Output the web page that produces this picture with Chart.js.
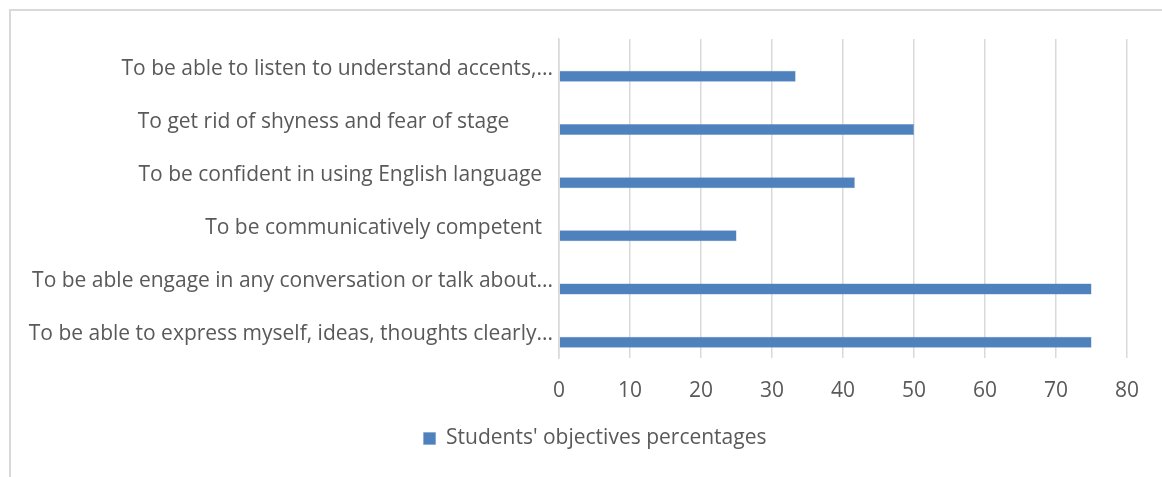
<!DOCTYPE html>
<html lang="en">
<head>
  <meta charset="UTF-8" />
  <title>Students' objectives</title>
  <script src="https://cdn.jsdelivr.net/npm/chart.js"></script>
  <style>
    html, body { margin: 0; padding: 0; background: #fff; overflow: hidden; }
    #frame {
      position: absolute; left: 9px; top: 9px; width: 1300px; height: 600px;
      border-top: 2px solid #d9d9d9; border-left: 2px solid #d9d9d9;
    }
    #wrap { position: absolute; left: 11px; top: 0; width: 1172px; height: 477px; }
  </style>
</head>
<body>
  <div id="frame"></div>
  <div id="wrap"><canvas id="graphique"></canvas></div>

  <script>
    const categories = [
      "To be able to listen to understand accents,...",
      "To get rid of shyness and fear of stage        ",
      "To be confident in using English language  ",
      "To be communicatively competent  ",
      "To be able engage in any conversation or talk about...",
      "To be able to express myself, ideas, thoughts clearly..."
    ];
    const percentages = [33.33, 50, 41.67, 25, 75, 75];
    const seriesName = "Students' objectives percentages";
    const xTicks = [0, 10, 20, 30, 40, 50, 60, 70, 80];

    const grey = '#595959';
    const font = { family: '"Open Sans", Lato, sans-serif', size: 21 };

    // legend sits a bit right of the plot centre in the original
    const shiftLegend = {
      id: 'shiftLegend',
      afterLayout(chart) {
        if (!chart.legend) return;
        chart.legend.left += 26;
        chart.legend.right += 26;
      }
    };

    new Chart(document.getElementById('graphique'), {
      type: 'bar',
      data: {
        labels: categories,
        datasets: [
          // empty placeholder series, keeps the real bars in the lower half of each slot
          { label: '', data: categories.map(() => null), backgroundColor: 'rgba(0,0,0,0)' },
          { label: seriesName, data: percentages, backgroundColor: '#4f81bd', borderColor: '#6f98cc', borderWidth: 0.5 }
        ]
      },
      plugins: [shiftLegend],
      options: {
        indexAxis: 'y',
        responsive: true,
        maintainAspectRatio: false,
        animation: false,
        categoryPercentage: 0.81,
        barPercentage: 0.51,
        layout: { padding: { top: 39, right: 56, left: 0, bottom: 18 } },
        scales: {
          x: {
            min: 0, max: 80,
            afterBuildTicks: s => { s.ticks = xTicks.map(v => ({ value: v })); },
            afterFit: s => { s.height = 60; },
            grid: { color: '#d9d9d9', lineWidth: 1.5, drawTicks: false },
            border: { display: false },
            ticks: { color: grey, font, padding: 20 }
          },
          y: {
            afterFit: s => { s.width = 548; },
            grid: { display: false, drawTicks: false },
            border: { color: '#d9d9d9', width: 1.5 },
            ticks: { color: grey, font, padding: 6, labelOffset: 3 }
          }
        },
        plugins: {
          tooltip: { enabled: false },
          legend: {
            position: 'bottom',
            labels: {
              color: grey, font, boxWidth: 12, boxHeight: 12, padding: 10,
              filter: item => item.text !== ''
            }
          }
        }
      }
    });
  </script>
</body>
</html>
